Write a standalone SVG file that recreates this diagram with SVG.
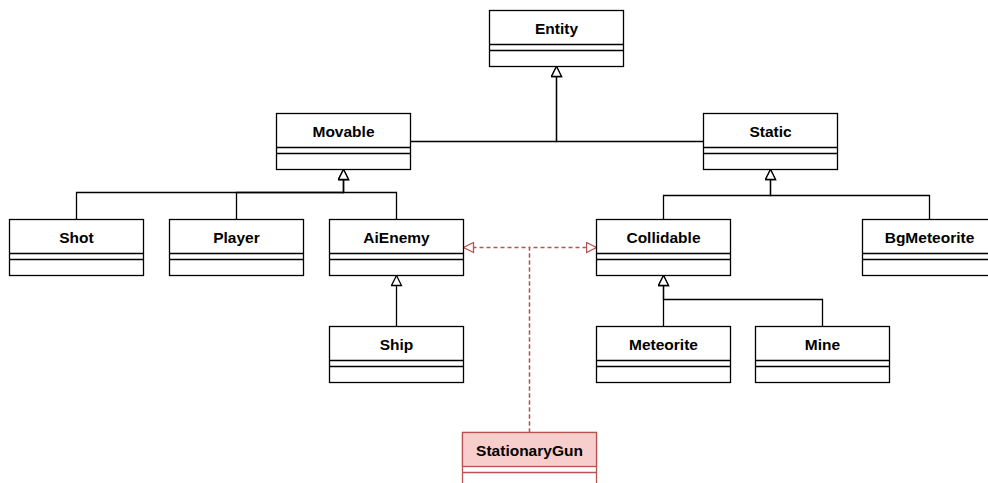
<svg xmlns="http://www.w3.org/2000/svg" width="988" height="483" viewBox="0 0 988 483">
<style>
.box rect, .box line{fill:#ffffff;stroke:#000000;stroke-width:1.3}
.box.red rect, .box.red line{stroke:#b85450}
.box.red rect.hdr{fill:#f8cecc}
.box text{font-family:"Liberation Sans",Arial,sans-serif;font-weight:bold;font-size:15.5px;text-anchor:middle;fill:#000000}
.conn path{fill:none;stroke:#000000;stroke-width:1.3}
.conn path.dash{stroke:#b85450;stroke-dasharray:4 3}
</style>
<defs>
<marker id="tri" markerWidth="12" markerHeight="12" viewBox="0 0 12 12" refX="11" refY="6" orient="auto" markerUnits="userSpaceOnUse">
<path d="M1,1 L11,6 L1,11 Z" fill="#ffffff" stroke="#000000" stroke-width="1.3"/>
</marker>
<marker id="triRed" markerWidth="12" markerHeight="12" viewBox="0 0 12 12" refX="11" refY="6" orient="auto" markerUnits="userSpaceOnUse">
<path d="M1,1 L11,6 L1,11 Z" fill="#ffffff" stroke="#b85450" stroke-width="1.3"/>
</marker>
</defs>
<rect width="988" height="483" fill="#ffffff"/>
<g id="connectors" class="conn">
<path d="M410.5,141.5 H556.5 V66.5" marker-end="url(#tri)"/>
<path d="M703.5,141.5 H556.5 V66.5" marker-end="url(#tri)"/>
<path d="M76.5,219.5 V192.5 H343.5 V169.5" marker-end="url(#tri)"/>
<path d="M236.5,219.5 V192.5 H343.5 V169.5" marker-end="url(#tri)"/>
<path d="M396.5,219.5 V192.5 H343.5 V169.5" marker-end="url(#tri)"/>
<path d="M396.5,326.5 V275.5" marker-end="url(#tri)"/>
<path d="M663.5,219.5 V195.5 H770.5 V169.5" marker-end="url(#tri)"/>
<path d="M929.5,219.5 V195.5 H770.5 V169.5" marker-end="url(#tri)"/>
<path d="M663.5,326.5 V275.5" marker-end="url(#tri)"/>
<path d="M822.5,326.5 V299.5 H663.5 V275.5" marker-end="url(#tri)"/>
<path class="dash" d="M529.5,432.5 V247.5 H463.5" marker-end="url(#triRed)"/>
<path class="dash" d="M529.5,432.5 V247.5 H596.5" marker-end="url(#triRed)"/>
</g>
<g id="Entity" class="box"><rect x="489.5" y="10.5" width="134" height="56"/><line x1="489.5" y1="44.5" x2="623.5" y2="44.5"/><line x1="489.5" y1="50.5" x2="623.5" y2="50.5"/><text x="556.5" y="34">Entity</text></g>
<g id="Movable" class="box"><rect x="276.5" y="113.5" width="134" height="56"/><line x1="276.5" y1="147.5" x2="410.5" y2="147.5"/><line x1="276.5" y1="153.5" x2="410.5" y2="153.5"/><text x="343.5" y="137">Movable</text></g>
<g id="Static" class="box"><rect x="703.5" y="113.5" width="134" height="56"/><line x1="703.5" y1="147.5" x2="837.5" y2="147.5"/><line x1="703.5" y1="153.5" x2="837.5" y2="153.5"/><text x="770.5" y="137">Static</text></g>
<g id="Shot" class="box"><rect x="9.5" y="219.5" width="134" height="56"/><line x1="9.5" y1="253.5" x2="143.5" y2="253.5"/><line x1="9.5" y1="259.5" x2="143.5" y2="259.5"/><text x="76.5" y="243">Shot</text></g>
<g id="Player" class="box"><rect x="169.5" y="219.5" width="134" height="56"/><line x1="169.5" y1="253.5" x2="303.5" y2="253.5"/><line x1="169.5" y1="259.5" x2="303.5" y2="259.5"/><text x="236.5" y="243">Player</text></g>
<g id="AiEnemy" class="box"><rect x="329.5" y="219.5" width="134" height="56"/><line x1="329.5" y1="253.5" x2="463.5" y2="253.5"/><line x1="329.5" y1="259.5" x2="463.5" y2="259.5"/><text x="396.5" y="243">AiEnemy</text></g>
<g id="Collidable" class="box"><rect x="596.5" y="219.5" width="134" height="56"/><line x1="596.5" y1="253.5" x2="730.5" y2="253.5"/><line x1="596.5" y1="259.5" x2="730.5" y2="259.5"/><text x="663.5" y="243">Collidable</text></g>
<g id="BgMeteorite" class="box"><rect x="862.5" y="219.5" width="134" height="56"/><line x1="862.5" y1="253.5" x2="996.5" y2="253.5"/><line x1="862.5" y1="259.5" x2="996.5" y2="259.5"/><text x="929.5" y="243">BgMeteorite</text></g>
<g id="Ship" class="box"><rect x="329.5" y="326.5" width="134" height="56"/><line x1="329.5" y1="360.5" x2="463.5" y2="360.5"/><line x1="329.5" y1="366.5" x2="463.5" y2="366.5"/><text x="396.5" y="350">Ship</text></g>
<g id="Meteorite" class="box"><rect x="596.5" y="326.5" width="134" height="56"/><line x1="596.5" y1="360.5" x2="730.5" y2="360.5"/><line x1="596.5" y1="366.5" x2="730.5" y2="366.5"/><text x="663.5" y="350">Meteorite</text></g>
<g id="Mine" class="box"><rect x="755.5" y="326.5" width="134" height="56"/><line x1="755.5" y1="360.5" x2="889.5" y2="360.5"/><line x1="755.5" y1="366.5" x2="889.5" y2="366.5"/><text x="822.5" y="350">Mine</text></g>
<g id="StationaryGun" class="box red"><rect x="462.5" y="432.5" width="134" height="56"/><rect class="hdr" x="462.5" y="432.5" width="134" height="34"/><line x1="462.5" y1="472.5" x2="596.5" y2="472.5"/><text x="529.5" y="456">StationaryGun</text></g>
</svg>
